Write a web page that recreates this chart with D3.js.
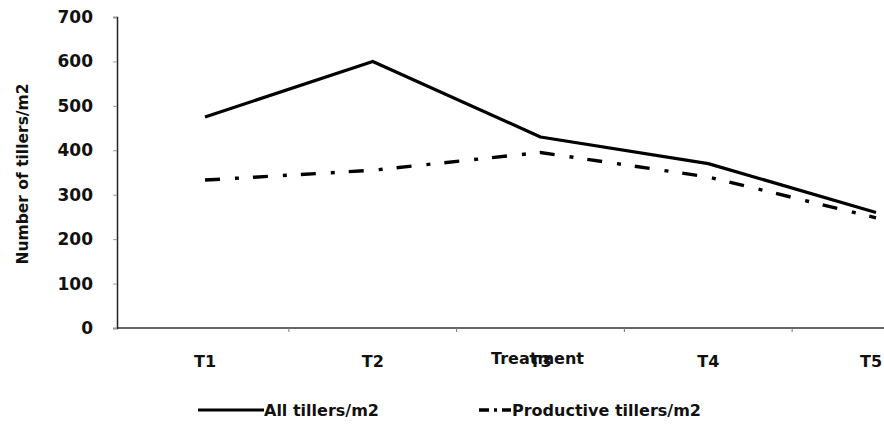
<!DOCTYPE html>
<html lang="en">
<head>
    <meta charset="UTF-8">
    <title>Tillers</title>
    <script src="https://cdn.jsdelivr.net/npm/d3@7"></script>
    <style>
        body { margin: 0; background: #fff; }
    </style>
</head>
<body>
    <svg width="884" height="430"></svg>
    <script>
        var categories = ['T1', 'T2', 'T3', 'T4', 'T5'];
        var allTillers = [475, 600, 430, 370, 260];
        var productiveTillers = [333, 355, 395, 340, 248];
        var yTicks = [0, 100, 200, 300, 400, 500, 600, 700];

        var svg = d3.select('svg');
        var axisLeftX = 117;
        var font = 'DejaVu Sans';

        // 比例尺
        var x = d3.scalePoint()
            .domain(categories)
            .range([205, 876]);

        var y = d3.scaleLinear()
            .domain([0, 700])
            .range([328, 17]);

        // y 轴
        var yAxis = d3.axisLeft(y).tickValues(yTicks).tickSize(4).tickPadding(20);
        var gy = svg.append('g')
            .attr('transform', 'translate(' + axisLeftX + ',0)')
            .call(yAxis);
        gy.select('.domain').attr('stroke', '#222').attr('stroke-width', 1.5);
        gy.selectAll('.tick line').attr('stroke', '#999');
        gy.selectAll('.tick text')
            .attr('font-family', font)
            .attr('font-weight', 'bold')
            .attr('font-size', 17)
            .attr('fill', '#111');

        // x 轴
        svg.append('line')
            .attr('x1', axisLeftX).attr('x2', 884)
            .attr('y1', y(0)).attr('y2', y(0))
            .attr('stroke', '#333').attr('stroke-width', 1.5);

        var mids = d3.pairs(categories).map(function (p) {
            return (x(p[0]) + x(p[1])) / 2;
        });
        svg.selectAll('.xtick').data(mids).enter().append('line')
            .attr('x1', function (d) { return d; })
            .attr('x2', function (d) { return d; })
            .attr('y1', y(0)).attr('y2', y(0) + 4)
            .attr('stroke', '#777');

        svg.selectAll('.xlab').data(categories).enter().append('text')
            .attr('x', function (d) { return Math.min(x(d), 871); }) // T5 贴边
            .attr('y', 367)
            .attr('text-anchor', 'middle')
            .attr('font-family', font)
            .attr('font-weight', 'bold')
            .attr('font-size', 16)
            .attr('fill', '#111')
            .text(function (d) { return d; });

        // 轴标题 (和 T3 重叠, 与原图一致)
        svg.append('text')
            .attr('x', x('T3') - 3)
            .attr('y', 364)
            .attr('text-anchor', 'middle')
            .attr('font-family', font)
            .attr('font-weight', 'bold')
            .attr('font-size', 16)
            .attr('fill', '#111')
            .text('Treatment');

        svg.append('text')
            .attr('transform', 'translate(28,174) rotate(-90)')
            .attr('text-anchor', 'middle')
            .attr('font-family', font)
            .attr('font-weight', 'bold')
            .attr('font-size', 15.5)
            .attr('fill', '#111')
            .text('Number of tillers/m2');

        // 折线
        var line = d3.line()
            .x(function (d, i) { return x(categories[i]); })
            .y(function (d) { return y(d); });

        svg.append('path')
            .datum(allTillers)
            .attr('d', line)
            .attr('fill', 'none')
            .attr('stroke', '#000')
            .attr('stroke-width', 3.2)
            .attr('stroke-linejoin', 'round');

        svg.append('path')
            .datum(productiveTillers)
            .attr('d', line)
            .attr('fill', 'none')
            .attr('stroke', '#000')
            .attr('stroke-width', 3.4)
            .attr('stroke-dasharray', '15,15,4,14');

        // 图例
        var legend = svg.append('g').attr('transform', 'translate(0,410)');
        legend.append('line')
            .attr('x1', 198).attr('x2', 264).attr('y1', 0).attr('y2', 0)
            .attr('stroke', '#000').attr('stroke-width', 3);
        legend.append('text')
            .attr('x', 264).attr('y', 6)
            .attr('font-family', font)
            .attr('font-weight', 'bold')
            .attr('font-size', 16)
            .attr('fill', '#111')
            .text('All tillers/m2');

        legend.append('line')
            .attr('x1', 479).attr('x2', 511).attr('y1', 0).attr('y2', 0)
            .attr('stroke', '#000').attr('stroke-width', 3.4)
            .attr('stroke-dasharray', '10,5,3,5');
        legend.append('text')
            .attr('x', 512).attr('y', 6)
            .attr('font-family', font)
            .attr('font-weight', 'bold')
            .attr('font-size', 16)
            .attr('fill', '#111')
            .text('Productive tillers/m2');
    </script>
</body>
</html>
